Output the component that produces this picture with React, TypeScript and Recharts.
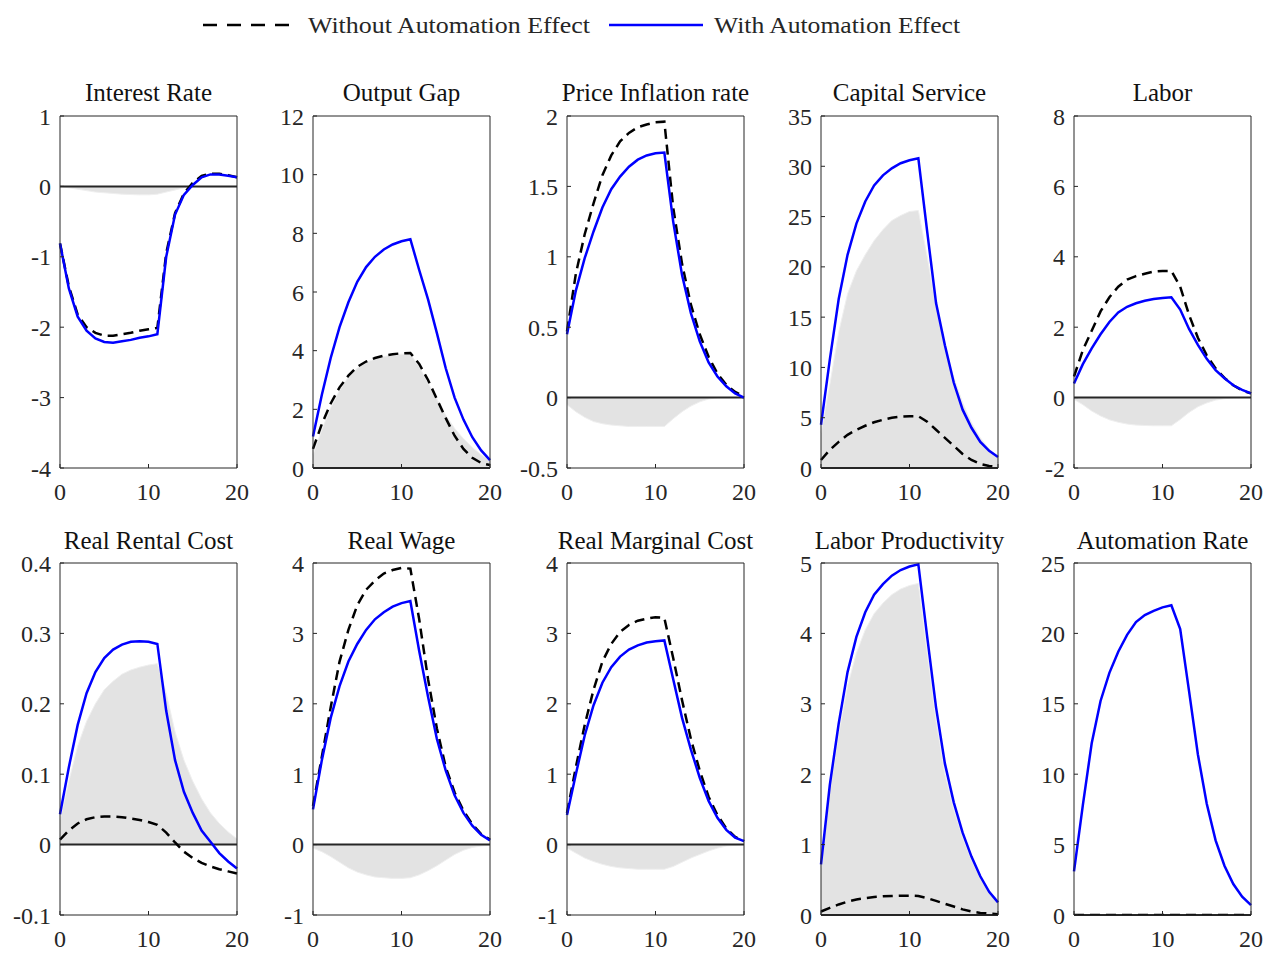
// App.tsx
import { ComposedChart, Line, Area, XAxis, YAxis, ReferenceLine } from "recharts";

const periods = [0, 1, 2, 3, 4, 5, 6, 7, 8, 9, 10, 11, 12, 13, 14, 15, 16, 17, 18, 19, 20];
const xTicks = [0, 10, 20];

const interestWithout = [-0.81, -1.42, -1.82, -2.0, -2.08, -2.12, -2.12, -2.1, -2.08, -2.05, -2.03, -2.01, -0.95, -0.38, -0.1, 0.05, 0.15, 0.18, 0.18, 0.16, 0.13];
const interestWith = [-0.81, -1.45, -1.85, -2.05, -2.16, -2.21, -2.22, -2.2, -2.18, -2.15, -2.13, -2.1, -1.0, -0.4, -0.12, 0.02, 0.13, 0.17, 0.17, 0.15, 0.13];
const interestGap = [0, -0.02, -0.04, -0.06, -0.08, -0.09, -0.1, -0.11, -0.115, -0.12, -0.12, -0.11, -0.08, -0.05, -0.02, 0, 0, 0, 0, 0, 0];
const interestTicks = [-4, -3, -2, -1, 0, 1];

const outputWithout = [0.65, 1.5, 2.2, 2.75, 3.15, 3.45, 3.63, 3.75, 3.83, 3.88, 3.91, 3.92, 3.55, 3.0, 2.35, 1.7, 1.1, 0.65, 0.35, 0.17, 0.1];
const outputWith = [1.07, 2.5, 3.75, 4.8, 5.65, 6.35, 6.85, 7.2, 7.45, 7.62, 7.73, 7.8, 6.75, 5.75, 4.6, 3.4, 2.4, 1.65, 1.05, 0.6, 0.27];
const outputGap = [0.45, 1.3, 2.05, 2.65, 3.1, 3.4, 3.6, 3.72, 3.8, 3.85, 3.88, 3.88, 3.45, 2.9, 2.35, 1.8, 1.35, 1.0, 0.7, 0.45, 0.25];
const outputTicks = [0, 2, 4, 6, 8, 10, 12];

const inflationWithout = [0.47, 0.88, 1.16, 1.38, 1.58, 1.72, 1.82, 1.88, 1.92, 1.94, 1.955, 1.96, 1.35, 0.95, 0.66, 0.45, 0.29, 0.17, 0.09, 0.04, 0.01];
const inflationWith = [0.45, 0.76, 0.99, 1.18, 1.35, 1.48, 1.57, 1.64, 1.69, 1.72, 1.735, 1.74, 1.25, 0.87, 0.6, 0.4, 0.25, 0.15, 0.08, 0.03, 0.0];
const inflationGap = [-0.05, -0.1, -0.14, -0.17, -0.185, -0.195, -0.2, -0.205, -0.205, -0.205, -0.205, -0.205, -0.15, -0.1, -0.06, -0.03, -0.01, 0, 0, 0, 0];
const inflationTicks = [-0.5, 0, 0.5, 1, 1.5, 2];

const capitalWithout = [0.8, 1.8, 2.6, 3.3, 3.8, 4.2, 4.55, 4.8, 5.0, 5.1, 5.15, 5.15, 4.6, 3.8, 3.0, 2.2, 1.4, 0.8, 0.4, 0.2, 0.1];
const capitalWith = [4.3, 10.8, 16.8, 21.2, 24.3, 26.5, 28.1, 29.1, 29.8, 30.3, 30.6, 30.8, 23.5, 16.4, 12.2, 8.5, 5.8, 4.0, 2.6, 1.7, 1.1];
const capitalGap = [3.5, 8.3, 13.5, 17.3, 19.6, 21.2, 22.6, 23.7, 24.6, 25.1, 25.5, 25.6, 21.0, 16.0, 12.0, 9.0, 6.5, 4.5, 3.0, 1.9, 1.0];
const capitalTicks = [0, 5, 10, 15, 20, 25, 30, 35];

const laborWithout = [0.6, 1.35, 1.9, 2.45, 2.85, 3.15, 3.35, 3.45, 3.52, 3.58, 3.6, 3.6, 3.15, 2.35, 1.7, 1.2, 0.83, 0.56, 0.35, 0.2, 0.12];
const laborWith = [0.4, 0.95, 1.4, 1.8, 2.15, 2.42, 2.58, 2.68, 2.75, 2.8, 2.83, 2.85, 2.5, 1.95, 1.5, 1.1, 0.78, 0.55, 0.35, 0.22, 0.12];
const laborGap = [-0.05, -0.2, -0.38, -0.52, -0.63, -0.7, -0.75, -0.78, -0.79, -0.8, -0.8, -0.8, -0.62, -0.42, -0.26, -0.15, -0.07, -0.03, -0.01, 0, 0];
const laborTicks = [-2, 0, 2, 4, 6, 8];

const rentalWithout = [0.007, 0.02, 0.03, 0.036, 0.039, 0.04, 0.04, 0.039, 0.037, 0.035, 0.032, 0.028, 0.017, 0.003, -0.01, -0.019, -0.026, -0.031, -0.035, -0.038, -0.041];
const rentalWith = [0.043, 0.11, 0.17, 0.215, 0.245, 0.265, 0.277, 0.284, 0.288, 0.289, 0.288, 0.285, 0.19, 0.12, 0.075, 0.045, 0.02, 0.004, -0.012, -0.024, -0.034];
const rentalGap = [0.035, 0.09, 0.14, 0.175, 0.2, 0.22, 0.232, 0.242, 0.248, 0.252, 0.255, 0.257, 0.215, 0.16, 0.12, 0.09, 0.065, 0.045, 0.03, 0.018, 0.008];
const rentalTicks = [-0.1, 0, 0.1, 0.2, 0.3, 0.4];

const wageWithout = [0.55, 1.25, 1.95, 2.6, 3.05, 3.4, 3.62, 3.75, 3.85, 3.9, 3.93, 3.92, 3.2, 2.35, 1.65, 1.1, 0.74, 0.48, 0.29, 0.15, 0.07];
const wageWith = [0.5, 1.2, 1.8, 2.25, 2.6, 2.85, 3.05, 3.2, 3.3, 3.38, 3.43, 3.46, 2.75, 2.1, 1.5, 1.05, 0.7, 0.45, 0.27, 0.14, 0.06];
const wageGap = [-0.05, -0.1, -0.17, -0.25, -0.33, -0.39, -0.43, -0.46, -0.47, -0.48, -0.48, -0.47, -0.43, -0.37, -0.3, -0.22, -0.14, -0.08, -0.04, -0.02, -0.01];
const wageTicks = [-1, 0, 1, 2, 3, 4];

const marginalWithout = [0.45, 1.1, 1.7, 2.2, 2.6, 2.85, 3.02, 3.12, 3.18, 3.21, 3.23, 3.22, 2.65, 2.05, 1.5, 1.05, 0.68, 0.42, 0.23, 0.11, 0.05];
const marginalWith = [0.42, 1.0, 1.55, 1.98, 2.3, 2.52, 2.67, 2.77, 2.83, 2.87, 2.89, 2.9, 2.35, 1.8, 1.35, 0.95, 0.62, 0.38, 0.21, 0.1, 0.05];
const marginalGap = [-0.05, -0.12, -0.19, -0.24, -0.28, -0.31, -0.33, -0.34, -0.35, -0.35, -0.35, -0.35, -0.31, -0.25, -0.19, -0.14, -0.09, -0.05, -0.02, -0.01, 0];
const marginalTicks = [-1, 0, 1, 2, 3, 4];

const productivityWithout = [0.05, 0.1, 0.15, 0.19, 0.22, 0.24, 0.255, 0.265, 0.27, 0.275, 0.275, 0.27, 0.24, 0.2, 0.16, 0.12, 0.08, 0.05, 0.03, 0.02, 0.01];
const productivityWith = [0.72, 1.85, 2.72, 3.45, 3.95, 4.3, 4.55, 4.7, 4.82, 4.9, 4.95, 4.98, 3.95, 2.95, 2.15, 1.6, 1.17, 0.83, 0.55, 0.33, 0.18];
const productivityGap = [0.67, 1.75, 2.57, 3.25, 3.72, 4.05, 4.28, 4.43, 4.55, 4.63, 4.68, 4.71, 3.72, 2.76, 2.0, 1.5, 1.1, 0.78, 0.52, 0.31, 0.17];
const productivityTicks = [0, 1, 2, 3, 4, 5];

const automationWithout = [0, 0, 0, 0, 0, 0, 0, 0, 0, 0, 0, 0, 0, 0, 0, 0, 0, 0, 0, 0, 0];
const automationWith = [3.1, 7.8, 12.2, 15.2, 17.2, 18.7, 19.9, 20.8, 21.3, 21.6, 21.85, 22.0, 20.3, 15.9, 11.4, 7.9, 5.3, 3.5, 2.2, 1.3, 0.7];
const automationTicks = [0, 5, 10, 15, 20, 25];

const FONT = '"Liberation Serif", "Times New Roman", serif';
const INK = "#262626";
const PLOT_W = 177;
const PLOT_H = 352;
const COL_LEFT = [60, 313, 567, 821, 1074];
const ROW_TOP = [116, 563];
const TITLE_TOP = [80, 528];

const panels = [
  { title: "Interest Rate", without: interestWithout, with: interestWith, gap: interestGap, ticks: interestTicks },
  { title: "Output Gap", without: outputWithout, with: outputWith, gap: outputGap, ticks: outputTicks },
  { title: "Price Inflation rate", without: inflationWithout, with: inflationWith, gap: inflationGap, ticks: inflationTicks },
  { title: "Capital Service", without: capitalWithout, with: capitalWith, gap: capitalGap, ticks: capitalTicks },
  { title: "Labor", without: laborWithout, with: laborWith, gap: laborGap, ticks: laborTicks },
  { title: "Real Rental Cost", without: rentalWithout, with: rentalWith, gap: rentalGap, ticks: rentalTicks },
  { title: "Real Wage", without: wageWithout, with: wageWith, gap: wageGap, ticks: wageTicks },
  { title: "Real Marginal Cost", without: marginalWithout, with: marginalWith, gap: marginalGap, ticks: marginalTicks },
  { title: "Labor Productivity", without: productivityWithout, with: productivityWith, gap: productivityGap, ticks: productivityTicks },
  { title: "Automation Rate", without: automationWithout, with: automationWith, gap: null, ticks: automationTicks },
];

type PanelSpec = (typeof panels)[number];

const tickStyle = { fill: INK, fontSize: 24, fontFamily: FONT };

function Panel({ spec, left, top, titleTop }: { spec: PanelSpec; left: number; top: number; titleTop: number }) {
  const data = periods.map((t, i) => ({
    t,
    without: spec.without[i],
    with: spec.with[i],
    gap: spec.gap ? spec.gap[i] : null,
  }));
  const yDomain = [spec.ticks[0], spec.ticks[spec.ticks.length - 1]];

  return (
    <>
      <div
        style={{
          position: "absolute",
          left: left + PLOT_W / 2 - 150,
          top: titleTop,
          width: 300,
          textAlign: "center",
          fontFamily: FONT,
          fontSize: 25,
          lineHeight: "25px",
          color: "#111",
          whiteSpace: "nowrap",
        }}
      >
        {spec.title}
      </div>
      <div style={{ position: "absolute", left: left - 60, top: top - 20 }}>
        <ComposedChart width={60 + PLOT_W + 16} height={20 + PLOT_H + 40} data={data} margin={{ top: 19, right: 15, bottom: 0, left: 0 }}>
          <XAxis
            dataKey="t"
            type="number"
            domain={[0, 20]}
            ticks={xTicks}
            interval={0}
            height={40}
            tickSize={-4}
            tickMargin={19}
            stroke={INK}
            tick={tickStyle}
          />
          <XAxis
            xAxisId="top"
            orientation="top"
            dataKey="t"
            type="number"
            domain={[0, 20]}
            allowDataOverflow
            ticks={xTicks}
            interval={0}
            height={1}
            tickSize={-4}
            tick={false}
            stroke={INK}
          />
          <YAxis
            type="number"
            domain={yDomain}
            allowDataOverflow
            ticks={spec.ticks}
            interval={0}
            width={60}
            tickSize={-4}
            tickMargin={13}
            stroke={INK}
            tick={tickStyle}
          />
          <YAxis
            yAxisId="right"
            orientation="right"
            type="number"
            domain={yDomain}
            allowDataOverflow
            ticks={spec.ticks}
            interval={0}
            width={1}
            tickSize={-4}
            tick={false}
            stroke={INK}
          />
          {spec.gap && (
            <Area
              type="linear"
              dataKey="gap"
              baseValue={0}
              fill="#e3e3e3"
              fillOpacity={1}
              stroke="#efefef"
              strokeWidth={1}
              isAnimationActive={false}
            />
          )}
          <ReferenceLine y={0} stroke={INK} strokeWidth={2} />
          <Line
            type="linear"
            dataKey="without"
            stroke="#000"
            strokeWidth={2.5}
            strokeDasharray="10 6"
            dot={false}
            isAnimationActive={false}
          />
          <Line type="linear" dataKey="with" stroke="#0000ff" strokeWidth={2.5} dot={false} isAnimationActive={false} />
        </ComposedChart>
      </div>
    </>
  );
}

function LegendBar() {
  return (
    <svg width={1267} height={50} style={{ position: "absolute", left: 0, top: 0 }}>
      <line x1={203} y1={25} x2={290} y2={25} stroke="#000" strokeWidth={2.5} strokeDasharray="14 10" />
      <text x={308} y={33} fontFamily={FONT} fontSize={24} fill={INK} textLength={282} lengthAdjust="spacingAndGlyphs">
        Without Automation Effect
      </text>
      <line x1={609} y1={25} x2={703} y2={25} stroke="#0000ff" strokeWidth={2.5} />
      <text x={714} y={33} fontFamily={FONT} fontSize={24} fill={INK} textLength={246} lengthAdjust="spacingAndGlyphs">
        With Automation Effect
      </text>
    </svg>
  );
}

export default function App() {
  return (
    <div style={{ position: "absolute", left: 0, top: 0, width: 1267, height: 954, background: "#fff" }}>
      <LegendBar />
      {panels.map((spec, i) => {
        const row = Math.floor(i / 5);
        const col = i % 5;
        return (
          <Panel key={spec.title} spec={spec} left={COL_LEFT[col]} top={ROW_TOP[row]} titleTop={TITLE_TOP[row]} />
        );
      })}
    </div>
  );
}
